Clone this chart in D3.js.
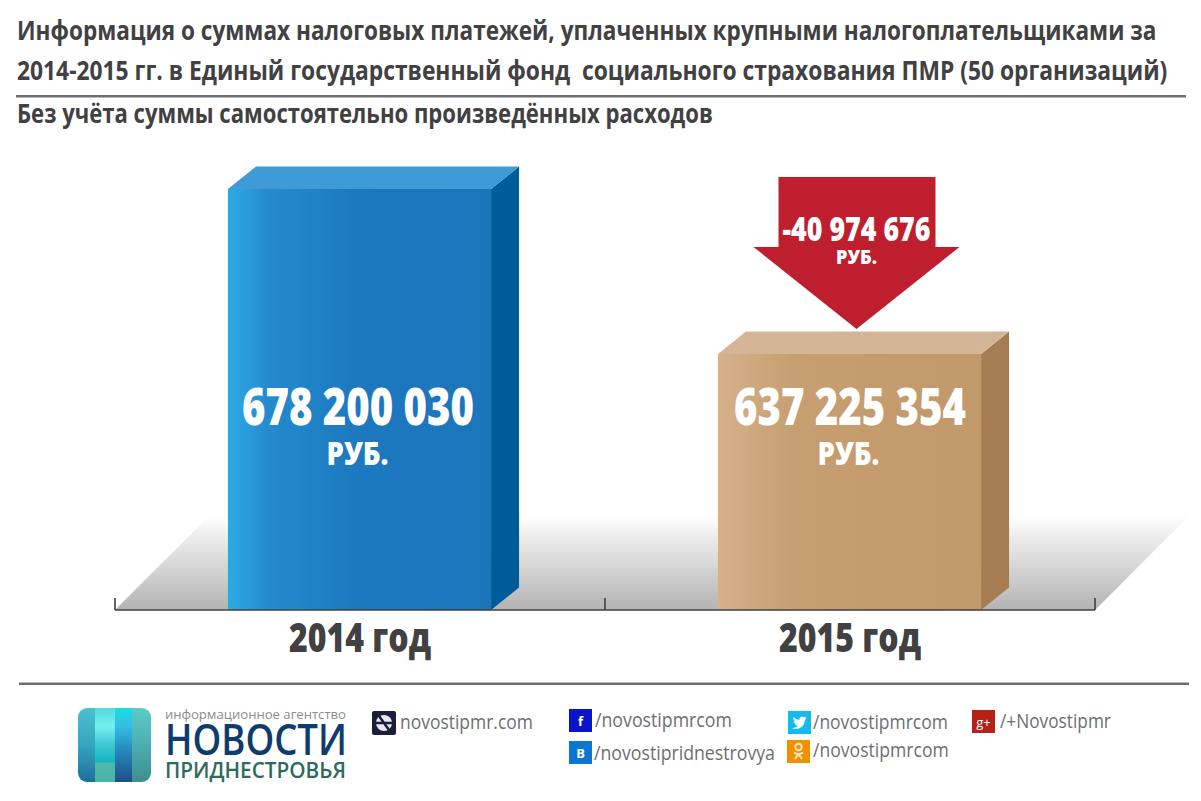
<!DOCTYPE html>
<html><head><meta charset="utf-8">
<script src="https://cdn.jsdelivr.net/npm/d3@7"></script>
<style>html,body{margin:0;padding:0;background:#fff}svg{display:block}text{font-family:"Open Sans",sans-serif;white-space:pre}</style>
</head><body><svg id="c" width="1201" height="801"></svg>
<script>
const categories = ["2014 год", "2015 год"];
const values = [678200030, 637225354];
const valueLabels = ["678 200 030", "637 225 354"];
const unitLabel = "РУБ.";
const deltaLabel = "-40 974 676";
const titleLines = [
  "Информация о суммах налоговых платежей, уплаченных крупными налогоплательщиками за",
  "2014-2015 гг. в Единый государственный фонд  социального страхования ПМР (50 организаций)"
];
const subtitle = "Без учёта суммы самостоятельно произведённых расходов";
const siteLabels = ["/novostipmrcom", "/novostipridnestrovya", "/novostipmrcom", "/novostipmrcom", "/+Novostipmr"];
const siteGlyphs = ["f", "В", "", "", "g+"];
const axisFloor = 573650000;

// Layout and styling, kept apart from the data above
const siteLayout = [
  { tx: 595, ty: 727, len: 137, ix: 569, iy: 709, fill: "#0a14c8" },
  { tx: 594, ty: 760, len: 181, ix: 569, iy: 741, fill: "#0a78d2" },
  { tx: 813, ty: 729, len: 135, ix: 788, iy: 711, fill: "#14b9f0" },
  { tx: 813, ty: 757, len: 136, ix: 787, iy: 740, fill: "#f29100" },
  { tx: 1000, ty: 728, len: 111, ix: 972, iy: 710, fill: "#b5221a" }
];
const W = 1201, H = 801, baseY = 610, topY = 189;
const svg = d3.select("#c");
const defs = svg.append("defs");
function lin(id, stops, vertical) {
  const g = defs.append("linearGradient").attr("id", id).attr("x1", 0).attr("y1", 0)
    .attr("x2", vertical ? 0 : 1).attr("y2", vertical ? 1 : 0);
  stops.forEach(s => g.append("stop").attr("offset", s[0]).attr("stop-color", s[1]).attr("stop-opacity", s[2] === undefined ? 1 : s[2]));
  return `url(#${id})`;
}
const floorFill = lin("floor", [[0, "#ffffff", 0], [0.2, "#f2f2f2", 1], [1, "#b4b4b4", 1]], true);
const frontFills = [
  lin("f0", [[0, "#2aaae2"], [0.07, "#2a9ddc"], [0.15, "#248bcd"], [0.5, "#1c78bf"], [1, "#1b75bb"]]),
  lin("f1", [[0, "#d6b18c"], [0.12, "#cfa980"], [0.3, "#c69e70"], [1, "#c1996b"]])
];
const sideFills = ["#005b9a", "#a67c52"];
const topFills = ["#3f9ad8", "#d4b595"];

const x = d3.scaleBand().domain(categories).range([114.5, 1094.5]).paddingInner(0.463).paddingOuter(0.2315);
const y = d3.scaleLinear().domain([axisFloor, values[0]]).range([baseY, topY]);
const dx = 28, dy = 22.5;

// Text fitted to a measured width by a horizontal scale, so its box is the real one
function hText(sel, str, xx, yy, len, size, color, anchor, weight) {
  const t = sel.append("text").attr("font-size", size).attr("font-weight", weight || 700)
    .attr("fill", color).attr("text-anchor", anchor || "start").text(str);
  const natural = t.node().getComputedTextLength();
  t.attr("transform", `translate(${xx},${yy}) scale(${len / natural},1)`);
  return t;
}

// Titles
const titleLen = [1140, 1151];
titleLines.forEach((t, i) => hText(svg, t, 17, 39.5 + i * 40, titleLen[i], 27.5, "#414042"));
svg.append("rect").attr("x", 16).attr("y", 95).attr("width", 1170).attr("height", 2.5).attr("fill", "#6d6e71");
hText(svg, subtitle, 17, 123, 696, 26, "#414042");

// Floor
const x0 = 115, x1 = 1095, floorH = 100;
svg.append("path").attr("fill", floorFill)
  .attr("d", d3.line()([[x0, baseY], [x0 + floorH, baseY - floorH], [x1 + floorH, baseY - floorH], [x1, baseY]]) + "Z");

// Bars
const bars = svg.selectAll("g.bar").data(values).join("g").attr("class", "bar");
bars.each(function (v, i) {
  const g = d3.select(this), l = x(categories[i]), r = l + x.bandwidth(), t = y(v);
  g.append("path").attr("fill", sideFills[i])
    .attr("d", d3.line()([[r, t], [r + dx, t - dy], [r + dx, baseY - dy], [r, baseY]]) + "Z");
  g.append("path").attr("fill", topFills[i])
    .attr("d", d3.line()([[l, t], [l + dx, t - dy], [r + dx, t - dy], [r, t]]) + "Z");
  g.append("rect").attr("x", l).attr("y", t).attr("width", x.bandwidth()).attr("height", baseY - t).attr("fill", frontFills[i]);
  const c = l + x.bandwidth() / 2;
  hText(g, valueLabels[i], c - 1.5 + i * 2, 425, 232, 52, "#fff", "middle", 800);
  hText(g, unitLabel, c - 2 + i, 465, 62, 32, "#fff", "middle", 800);
});

// Axis
const axis = d3.axisBottom(x).tickSize(0).tickFormat("");
const ag = svg.append("g").attr("transform", `translate(0,${baseY})`).call(axis);
ag.select(".domain").attr("stroke", "#414042").attr("stroke-width", 1.6).attr("d", `M${x0},0H${x1}`);
categories.forEach(c => hText(svg, c, x(c) + x.bandwidth() / 2 + 0.5, 652, 142, 40, "#414042", "middle", 800));
d3.range(3).forEach(i => {
  const px = x0 + i * x.step();
  svg.append("line").attr("x1", px).attr("x2", px).attr("y1", baseY).attr("y2", baseY - 12)
    .attr("stroke", "#414042").attr("stroke-width", 1.6);
});

// Difference arrow
const ax = x(categories[1]) + x.bandwidth() / 2 + 7;
const aTip = y(values[1]) - 25;
svg.append("path").attr("fill", "#be1e2d").attr("d", d3.line()([
  [ax - 78, aTip - 152], [ax + 79, aTip - 152], [ax + 79, aTip - 82], [ax + 103, aTip - 82],
  [ax, aTip], [ax - 103, aTip - 82], [ax - 78, aTip - 82]
]) + "Z");
hText(svg, deltaLabel, ax, 241, 148, 34, "#fff", "middle", 800);
hText(svg, unitLabel, ax, 264, 41, 20, "#fff", "middle", 800);

// Footer
svg.append("rect").attr("x", 19).attr("y", 682.5).attr("width", 1170).attr("height", 2.5).attr("fill", "#6d6e71");

const logo = svg.append("g");
defs.append("clipPath").attr("id", "lc").append("rect").attr("x", 78).attr("y", 708).attr("width", 73).attr("height", 74).attr("rx", 9);
const lg = logo.append("g").attr("clip-path", "url(#lc)");
[
  [78, 17, lin("l0", [[0, "#4dc0cf"], [0.5, "#35a5c0"], [1, "#1b6f9a"]], true)],
  [95, 20, lin("l1", [[0, "#55d8e0"], [0.25, "#6ff2ee"], [0.5, "#3ec6d4"], [0.72, "#10b7bf"], [0.75, "#4fb7ad"], [1, "#49b5a3"]], true)],
  [115, 17, lin("l2", [[0, "#18dfe0"], [0.25, "#35bde6"], [0.6, "#2585b8"], [1, "#1c4f85"]], true)],
  [132, 19, lin("l3", [[0, "#5ccdc3"], [0.5, "#4badb3"], [1, "#3e8f8a"]], true)]
].forEach(c => lg.append("rect").attr("x", c[0]).attr("y", 708).attr("width", c[1]).attr("height", 74).attr("fill", c[2]));
hText(logo, "информационное агентство", 165, 718.5, 181, 13, "#8a8c8e", "start", 400);
hText(logo, "НОВОСТИ", 165, 755, 182, 44, "#0e3c6e", "start", 600);
hText(logo, "ПРИДНЕСТРОВЬЯ", 165, 778, 181, 22, "#2f6b5c", "start", 600);

// Site icon
svg.append("rect").attr("x", 372).attr("y", 711).attr("width", 24).attr("height", 24).attr("rx", 2).attr("fill", "#1a1f3c");
svg.append("circle").attr("cx", 384).attr("cy", 723).attr("r", 8).attr("fill", "#e8e8ee");
svg.append("path").attr("d", "M376,723H392M379,716L389,730").attr("stroke", "#1a1f3c").attr("stroke-width", 2.5).attr("fill", "none");
hText(svg, "novostipmr.com", 400, 729, 133, 20, "#6d6e71", "start", 400);

siteLabels.forEach((label, i) => {
  const s = siteLayout[i];
  svg.append("rect").attr("x", s.ix).attr("y", s.iy).attr("width", 23).attr("height", 23).attr("fill", s.fill);
  if (siteGlyphs[i]) {
    svg.append("text").attr("x", s.ix + 11.5).attr("y", s.iy + 17).attr("text-anchor", "middle")
      .attr("font-size", 13).attr("font-weight", i === 4 ? 400 : 700).attr("fill", "#fff").text(siteGlyphs[i]);
  }
  hText(svg, label, s.tx, s.ty, s.len, 20, "#6d6e71", "start", 400);
});
// Twitter bird and Odnoklassniki figure, drawn as small shapes
const tw = siteLayout[2], ok = siteLayout[3];
svg.append("path").attr("fill", "#fff").attr("transform", `translate(${tw.ix},${tw.iy})`)
  .attr("d", "M4,17C8,19 16,18 17,9L19,7L17,7.4L18,5.5L16,6.3C14,4.5 11,6 11.5,8.8C9,8.7 7,7.5 5.5,6C5,8 6,9.5 7,10.2L5.6,9.9C5.8,11.6 7,12.6 8.3,13L7,13.1C7.6,14.3 8.7,14.9 9.8,15C8,16.5 6,17 4,17Z");
const okG = svg.append("g").attr("transform", `translate(${ok.ix},${ok.iy})`).attr("fill", "none").attr("stroke", "#fde9c8").attr("stroke-width", 2);
okG.append("circle").attr("cx", 11.5).attr("cy", 7).attr("r", 3.2);
okG.append("path").attr("d", "M7,12.5C9.5,14.3 13.5,14.3 16,12.5M11.5,14L8,19M11.5,14L15,19");
</script></body></html>
